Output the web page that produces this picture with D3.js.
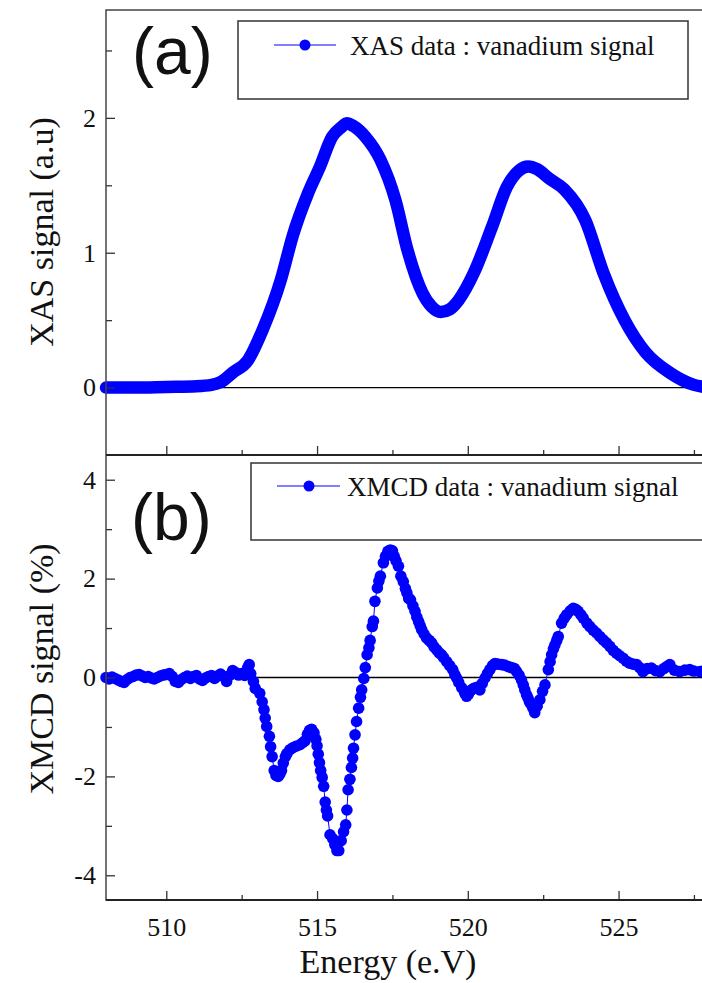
<!DOCTYPE html>
<html>
<head>
<meta charset="utf-8">
<script src="https://cdn.jsdelivr.net/npm/d3@7"></script>
<style>
  body { margin: 0; background: #fff; }
  svg { display: block; }
</style>
</head>
<body>
<svg id="canvas" width="702" height="983"></svg>
<script>
// XAS (top panel) - energy in eV, signal in a.u.
let xasEnergy = [508, 509, 510, 511, 511.5, 511.8, 512.2, 512.7, 513.2, 513.8, 514.2, 514.7, 515.1, 515.5, 515.8, 516.0, 516.2, 516.6, 517.1, 517.6, 518.0, 518.5, 518.8, 519.1, 519.4, 519.7, 520.2, 520.8, 521.3, 521.7, 522.0, 522.3, 522.7, 523.2, 523.9, 524.5, 525.2, 525.9, 526.7, 527.5, 528];
let xasSignal = [0, 0, 0.005, 0.01, 0.02, 0.04, 0.11, 0.2, 0.43, 0.8, 1.13, 1.44, 1.64, 1.86, 1.93, 1.96, 1.94, 1.86, 1.69, 1.39, 1.02, 0.70, 0.60, 0.56, 0.58, 0.65, 0.85, 1.19, 1.49, 1.61, 1.64, 1.62, 1.55, 1.47, 1.24, 0.85, 0.50, 0.26, 0.11, 0.02, 0.0];

// XMCD (bottom panel) - signal in %
let xmcdEnergy = [508.0, 508.1, 508.2, 508.3, 508.4, 508.5, 508.6, 508.7, 508.8, 508.9,
  509.0, 509.1, 509.2, 509.3, 509.4, 509.5, 509.6, 509.7, 509.8, 509.9,
  510.0, 510.1, 510.2, 510.3, 510.4, 510.5, 510.6, 510.7, 510.8, 510.9,
  511.0, 511.1, 511.2, 511.3, 511.4, 511.5, 511.6, 511.7, 511.8, 511.9,
  512.0, 512.1, 512.2, 512.3, 512.4, 512.5, 512.6, 512.7, 512.75, 512.8,
  512.89, 512.95, 513.1, 513.18, 513.24, 513.28, 513.33, 513.42, 513.46, 513.51,
  513.58, 513.64, 513.71, 513.77, 513.82, 513.88, 513.95, 514.0, 514.1, 514.2,
  514.3, 514.43, 514.52, 514.6, 514.68, 514.75, 514.82, 514.9, 514.96, 515.0,
  515.04, 515.08, 515.12, 515.17, 515.22, 515.27, 515.31, 515.35, 515.43, 515.52,
  515.59, 515.66, 515.72, 515.8, 515.88, 515.95, 515.99, 516.03, 516.09, 516.14,
  516.18, 516.21, 516.26, 516.31, 516.38, 516.44, 516.48, 516.55, 516.6, 516.66,
  516.72, 516.76, 516.83, 516.87, 516.92, 517.0, 517.05, 517.1, 517.2, 517.27,
  517.35, 517.43, 517.5, 517.56, 517.62, 517.7, 517.78, 517.86, 517.93, 517.98,
  518.04, 518.1, 518.18, 518.25, 518.31, 518.37, 518.42, 518.47, 518.55, 518.63,
  518.72, 518.8, 518.88, 518.97, 519.05, 519.13, 519.2, 519.3, 519.4, 519.5,
  519.57, 519.63, 519.7, 519.8, 519.9, 519.96, 520.02, 520.1, 520.2, 520.3,
  520.4, 520.48, 520.57, 520.65, 520.73, 520.82, 520.9, 521.0, 521.12, 521.22,
  521.34, 521.45, 521.55, 521.62, 521.7, 521.78, 521.84, 521.89, 521.95, 522.0,
  522.05, 522.11, 522.16, 522.22, 522.3, 522.39, 522.48, 522.56, 522.67, 522.73,
  522.78, 522.84, 522.89, 522.95, 523.0, 523.11, 523.2, 523.28, 523.4, 523.5,
  523.58, 523.66, 523.75, 523.83, 523.95, 524.05, 524.16, 524.27, 524.38, 524.49,
  524.6, 524.71, 524.82, 524.93, 525.04, 525.15, 525.26, 525.37, 525.48, 525.6,
  525.7, 525.81, 525.95, 526.09, 526.23, 526.37, 526.5, 526.6, 526.7, 526.85,
  527.03, 527.2, 527.36, 527.5, 527.7, 527.85, 528.0];
let xmcdSignal = [0.0, -0.03, 0.01, -0.02, -0.05, -0.08, -0.1, -0.04, 0.0, 0.02,
  0.05, 0.06, 0.03, 0.0, 0.02, -0.01, -0.03, 0.0, 0.03, 0.05,
  0.06, 0.08, 0.02, -0.08, -0.1, -0.04, 0.0, 0.03, -0.02, 0.02,
  0.04, -0.03, -0.06, -0.01, 0.02, 0.04, -0.02, 0.03, 0.07, 0.02,
  -0.08, 0.04, 0.14, 0.1, 0.05, 0.08, 0.04, 0.2, 0.26, 0.08,
  -0.08, -0.22, -0.32, -0.49, -0.65, -0.82, -0.99, -1.19, -1.40, -1.60,
  -1.88, -1.98, -2.0, -1.95, -1.88, -1.73, -1.6, -1.54, -1.46, -1.42,
  -1.39, -1.36, -1.32, -1.28, -1.15, -1.07, -1.05, -1.12, -1.25, -1.38,
  -1.55, -1.72, -1.88, -2.02, -2.2, -2.52, -2.68, -2.8, -3.18, -3.26,
  -3.38, -3.5, -3.5, -3.3, -3.12, -2.98, -2.68, -2.27, -2.06, -1.82,
  -1.63, -1.43, -1.16, -0.89, -0.62, -0.4, -0.25, -0.02, 0.2, 0.46,
  0.6, 0.75, 1.03, 1.14, 1.54, 1.81, 1.95, 2.05, 2.32, 2.45,
  2.55, 2.58, 2.56, 2.45, 2.36, 2.25, 2.05, 1.94, 1.8, 1.71,
  1.6, 1.57, 1.45, 1.34, 1.22, 1.13, 1.05, 0.97, 0.88, 0.8,
  0.75, 0.7, 0.62, 0.56, 0.5, 0.46, 0.4, 0.32, 0.24, 0.16,
  0.06, -0.01, -0.1, -0.21, -0.32, -0.38, -0.34, -0.26, -0.22, -0.2,
  -0.25, -0.12, -0.01, 0.08, 0.16, 0.24, 0.28, 0.27, 0.26, 0.25,
  0.22, 0.2, 0.18, 0.12, 0.05, -0.05, -0.15, -0.25, -0.35, -0.42,
  -0.5, -0.55, -0.62, -0.71, -0.58, -0.45, -0.28, -0.15, 0.16, 0.32,
  0.46, 0.58, 0.66, 0.75, 0.83, 1.1, 1.2, 1.27, 1.35, 1.4,
  1.38, 1.34, 1.27, 1.2, 1.1, 1.03, 0.96, 0.9, 0.83, 0.76,
  0.7, 0.63, 0.55, 0.49, 0.44, 0.39, 0.33, 0.29, 0.27, 0.26,
  0.2, 0.12, 0.18, 0.19, 0.14, 0.12, 0.18, 0.22, 0.26, 0.15,
  0.12, 0.15, 0.16, 0.13, 0.12, 0.14, 0.13];

let xTicks = [510, 515, 520, 525];
let xMinorTicks = [512.5, 517.5, 522.5, 527.5];
let xasTicks = [0, 1, 2];
let xasMinorTicks = [0.5, 1.5, 2.5];
let xmcdTicks = [-4, -2, 0, 2, 4];
let xmcdMinorTicks = [-3, -1, 1, 3];

let serif = "'Liberation Serif', 'Times New Roman', serif";
let sans = "'Liberation Sans', Arial, sans-serif";
let blue = '#0000ff';

let canvas = d3.select('#canvas');

// layout: the right frame edge falls outside the picture, like the original crop
let left = 106, right = 709;
let topA = 10, bottomA = 455, topB = 455, bottomB = 900;

let x = d3.scaleLinear().domain([508, 528]).range([left, right]);
let yA = d3.scaleLinear().domain([-0.5, 2.8]).range([bottomA, topA]);
let yB = d3.scaleLinear().domain([-4.5, 4.5]).range([bottomB, topB]);

// zero lines
canvas.append('line').attr('x1', left).attr('x2', right).attr('y1', yA(0)).attr('y2', yA(0))
  .attr('stroke', '#000').attr('stroke-width', 1.3);
canvas.append('line').attr('x1', left).attr('x2', right).attr('y1', yB(0)).attr('y2', yB(0))
  .attr('stroke', '#000').attr('stroke-width', 1.3);

// XAS curve (dense markers appear as one thick line)
let xasLine = d3.line()
  .x((d, i) => x(xasEnergy[i]))
  .y(d => yA(d))
  .curve(d3.curveMonotoneX);
canvas.append('path')
  .datum(xasSignal)
  .attr('d', xasLine)
  .attr('fill', 'none')
  .attr('stroke', blue)
  .attr('stroke-width', 12.5)
  .attr('stroke-linecap', 'round')
  .attr('stroke-linejoin', 'round');

// XMCD: thin line + dots
let xmcdLine = d3.line()
  .x((d, i) => x(xmcdEnergy[i]))
  .y(d => yB(d));
canvas.append('path')
  .datum(xmcdSignal)
  .attr('d', xmcdLine)
  .attr('fill', 'none')
  .attr('stroke', blue)
  .attr('stroke-width', 1);
canvas.append('g').selectAll('circle')
  .data(xmcdSignal)
  .enter()
  .append('circle')
  .attr('cx', (d, i) => x(xmcdEnergy[i]))
  .attr('cy', d => yB(d))
  .attr('r', 5.8)
  .attr('fill', blue);

// axes
function styleAxis(g) {
  g.selectAll('.domain').remove();
  g.selectAll('line').attr('stroke', '#333').attr('stroke-width', 1.3);
  g.selectAll('text').attr('font-family', serif).attr('font-size', 26).attr('fill', '#111');
}
let plain = d => String(d); // hyphen minus like the original

canvas.append('g').attr('transform', `translate(${left},0)`)
  .call(d3.axisLeft(yA).tickValues(xasTicks).tickSize(-9).tickPadding(10).tickFormat(plain))
  .call(styleAxis);
canvas.append('g').attr('transform', `translate(${left},0)`)
  .call(d3.axisLeft(yA).tickValues(xasMinorTicks).tickSize(-6).tickFormat(''))
  .call(styleAxis);

canvas.append('g').attr('transform', `translate(${left},0)`)
  .call(d3.axisLeft(yB).tickValues(xmcdTicks).tickSize(-9).tickPadding(10).tickFormat(plain))
  .call(styleAxis);
canvas.append('g').attr('transform', `translate(${left},0)`)
  .call(d3.axisLeft(yB).tickValues(xmcdMinorTicks).tickSize(-6).tickFormat(''))
  .call(styleAxis);

// energy ticks on both panels
canvas.append('g').attr('transform', `translate(0,${bottomA})`)
  .call(d3.axisBottom(x).tickValues(xTicks).tickSize(-9).tickFormat(''))
  .call(styleAxis);
canvas.append('g').attr('transform', `translate(0,${bottomA})`)
  .call(d3.axisBottom(x).tickValues(xMinorTicks).tickSize(-5).tickFormat(''))
  .call(styleAxis);
canvas.append('g').attr('transform', `translate(0,${bottomB})`)
  .call(d3.axisBottom(x).tickValues(xTicks).tickSize(-9).tickPadding(18).tickFormat(plain))
  .call(styleAxis);
canvas.append('g').attr('transform', `translate(0,${bottomB})`)
  .call(d3.axisBottom(x).tickValues(xMinorTicks).tickSize(-5).tickFormat(''))
  .call(styleAxis);

// frame
canvas.append('rect').attr('x', left).attr('y', topA).attr('width', right - left).attr('height', bottomB - topA)
  .attr('fill', 'none').attr('stroke', '#444').attr('stroke-width', 1.5);
canvas.append('line').attr('x1', left).attr('x2', right).attr('y1', bottomA).attr('y2', bottomA)
  .attr('stroke', '#222').attr('stroke-width', 2.2);
canvas.append('line').attr('x1', left).attr('x2', right).attr('y1', bottomB).attr('y2', bottomB)
  .attr('stroke', '#222').attr('stroke-width', 2);

// axis titles
canvas.append('text').attr('transform', 'translate(53,232) rotate(-90)')
  .attr('text-anchor', 'middle').attr('font-family', serif).attr('font-size', 34).attr('fill', '#111')
  .text('XAS signal (a.u)');
canvas.append('text').attr('transform', 'translate(53,669) rotate(-90)')
  .attr('text-anchor', 'middle').attr('font-family', serif).attr('font-size', 34).attr('fill', '#111')
  .text('XMCD signal (%)');
canvas.append('text').attr('x', 388).attr('y', 973)
  .attr('text-anchor', 'middle').attr('font-family', serif).attr('font-size', 34).attr('fill', '#111')
  .text('Energy (e.V)');

// panel letters
canvas.append('text').attr('x', 132).attr('y', 74).attr('font-family', sans).attr('font-size', 66).attr('fill', '#111').text('(a)');
canvas.append('text').attr('x', 131).attr('y', 540).attr('font-family', sans).attr('font-size', 66).attr('fill', '#111').text('(b)');

// legends: box, then the sample line/dot and the label
function legend(box, line, dotX, textX, sy, label) {
  canvas.append('rect').attr('x', box[0]).attr('y', box[1]).attr('width', box[2]).attr('height', box[3])
    .attr('fill', '#fff').attr('stroke', '#333').attr('stroke-width', 1.5);
  canvas.append('line').attr('x1', line[0]).attr('x2', line[1]).attr('y1', sy).attr('y2', sy)
    .attr('stroke', blue).attr('stroke-width', 1.2);
  canvas.append('circle').attr('cx', dotX).attr('cy', sy).attr('r', 5.5).attr('fill', blue);
  canvas.append('text').attr('x', textX).attr('y', sy + 10)
    .attr('font-family', serif).attr('font-size', 27).attr('fill', '#111').text(label);
}
legend([238, 21, 450, 78], [274, 336], 305, 350, 45, 'XAS data : vanadium signal');
legend([251, 463, 480, 77], [277, 340], 309, 347, 486, 'XMCD data : vanadium signal');
</script>
</body>
</html>
